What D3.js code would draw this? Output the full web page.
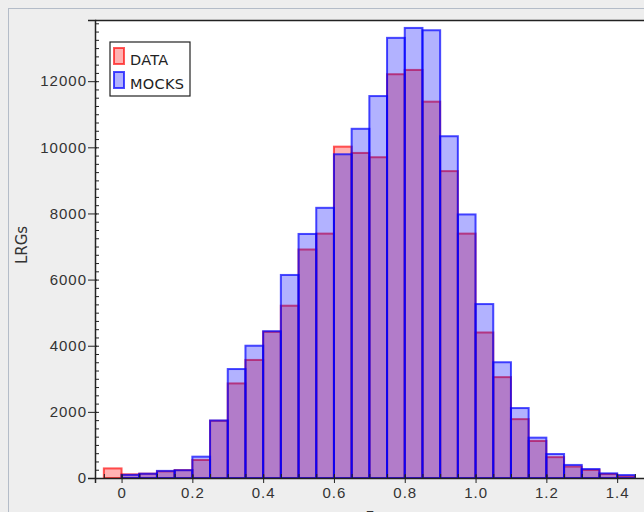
<!DOCTYPE html>
<html>
<head>
<meta charset="utf-8">
<script src="https://cdn.jsdelivr.net/npm/d3@7"></script>
<style>
  body { margin: 0; background: #eeeeee; }
  svg { display: block; font-family: "DejaVu Sans", sans-serif; }
</style>
</head>
<body>
<svg id="chart" width="644" height="512"></svg>
<script>
// bin left edges (width 0.05)
let binStart = [-0.05, 0.00, 0.05, 0.10, 0.15, 0.20, 0.25, 0.30, 0.35, 0.40,
                0.45, 0.50, 0.55, 0.60, 0.65, 0.70, 0.75, 0.80, 0.85, 0.90,
                0.95, 1.00, 1.05, 1.10, 1.15, 1.20, 1.25, 1.30, 1.35, 1.40];
let binWidth = 0.05;

let dataCounts = [290, 110, 130, 200, 240, 545, 1730, 2860, 3570, 4420,
                  5210, 6910, 7390, 10020, 9830, 9700, 12210, 12340, 11380, 9280,
                  7390, 4400, 3050, 1780, 1120, 630, 345, 245, 120, 50];
let mockCounts = [0, 95, 130, 215, 235, 645, 1740, 3295, 4000, 4440,
                  6140, 7380, 8170, 9790, 10560, 11550, 13310, 13610, 13540, 10335,
                  7970, 5260, 3500, 2115, 1220, 725, 395, 272, 141, 90];

let xTicks = [0, 0.2, 0.4, 0.6, 0.8, 1.0, 1.2, 1.4];
let xTickLabels = ['0', '0.2', '0.4', '0.6', '0.8', '1.0', '1.2', '1.4'];
let yTicks = [0, 2000, 4000, 6000, 8000, 10000, 12000];

let series = [
    { name: 'DATA', values: dataCounts, fill: 'rgba(255,0,0,0.3)', stroke: 'rgba(255,0,0,0.65)' },
    { name: 'MOCKS', values: mockCounts, fill: 'rgba(0,0,255,0.3)', stroke: 'rgba(0,0,255,0.7)' }
];

let svg = d3.select('#chart');
let plotLeft = 95, plotTop = 20, plotBottom = 478;

let x = d3.scaleLinear().domain([-0.075, 1.525]).range([plotLeft, plotLeft + 1.6 * 354]);
let y = d3.scaleLinear().domain([0, 13850]).range([plotBottom, plotTop]);

// outer panel border
svg.append('rect')
    .attr('x', 8.5).attr('y', 8.5).attr('width', 700).attr('height', 600)
    .attr('fill', '#eeeeee').attr('stroke', '#b4bcc8');

// plot area
svg.append('rect')
    .attr('x', plotLeft).attr('y', plotTop).attr('width', 700).attr('height', plotBottom - plotTop)
    .attr('fill', '#ffffff');

// bars
series.forEach(s => {
    svg.append('g').selectAll('rect')
        .data(binStart)
        .enter().append('rect')
        .filter((d, i) => s.values[i] > 0)
        .attr('x', d => x(d))
        .attr('width', d => x(d + binWidth) - x(d))
        .attr('y', d => y(s.values[binStart.indexOf(d)]))
        .attr('height', d => plotBottom - y(s.values[binStart.indexOf(d)]))
        .attr('fill', s.fill)
        .attr('stroke', s.stroke)
        .attr('stroke-width', 2);
});

// top border
svg.append('line')
    .attr('x1', plotLeft).attr('x2', 644).attr('y1', plotTop + 0.5).attr('y2', plotTop + 0.5)
    .attr('stroke', '#222').attr('stroke-width', 1.5);

// y axis
let yAxis = svg.append('g').attr('transform', `translate(${plotLeft},0)`);
yAxis.call(d3.axisLeft(y).tickValues(yTicks).tickSize(7).tickPadding(1).tickFormat(d3.format('d')));
svg.append('g').attr('transform', `translate(${plotLeft},0)`)
    .call(d3.axisRight(y).tickValues(d3.range(0, 13850, 250)).tickSize(4).tickFormat(''))
    .select('.domain').remove();
yAxis.selectAll('.tick line').attr('x2', -7).attr('x1', 2);

// x axis
let xAxis = svg.append('g').attr('transform', `translate(0,${plotBottom})`);
xAxis.call(d3.axisBottom(x).tickValues(xTicks).tickSize(5).tickPadding(4)
    .tickFormat((d, i) => xTickLabels[i]));
svg.append('g').attr('transform', `translate(0,${plotBottom})`)
    .call(d3.axisTop(x).tickValues(d3.range(-0.05, 1.5, 0.05)).tickSize(4).tickFormat(''))
    .select('.domain').remove();
xAxis.selectAll('.tick line').attr('y1', -3);

svg.selectAll('.domain').attr('stroke', '#222').attr('stroke-width', 1.5);
svg.selectAll('.tick line').attr('stroke', '#222');
svg.selectAll('.tick text')
    .attr('fill', '#333')
    .style('font-size', '15px')
    .style('letter-spacing', '1px');

// axis titles
svg.append('text')
    .attr('transform', 'translate(27,245) rotate(-90)')
    .attr('text-anchor', 'middle')
    .attr('fill', '#333')
    .style('font-size', '15px')
    .text('LRGs');
svg.append('text')
    .attr('x', 370).attr('y', 520)
    .attr('text-anchor', 'middle')
    .attr('fill', '#333')
    .style('font-size', '15px')
    .text('z');

// legend
let legend = svg.append('g').attr('transform', 'translate(110,42)');
legend.append('rect')
    .attr('width', 80).attr('height', 54)
    .attr('fill', '#fff').attr('stroke', '#222').attr('stroke-width', 1.2);
series.forEach((s, i) => {
    let row = legend.append('g').attr('transform', `translate(4,${6 + i * 24})`);
    row.append('rect')
        .attr('x', 0).attr('y', 0).attr('width', 10).attr('height', 16)
        .attr('fill', s.fill).attr('stroke', s.stroke).attr('stroke-width', 2);
    row.append('text')
        .attr('x', 16).attr('y', 17)
        .attr('fill', '#222')
        .style('font-size', '14.5px')
        .style('letter-spacing', '0.3px')
        .text(s.name);
});
</script>
</body>
</html>
